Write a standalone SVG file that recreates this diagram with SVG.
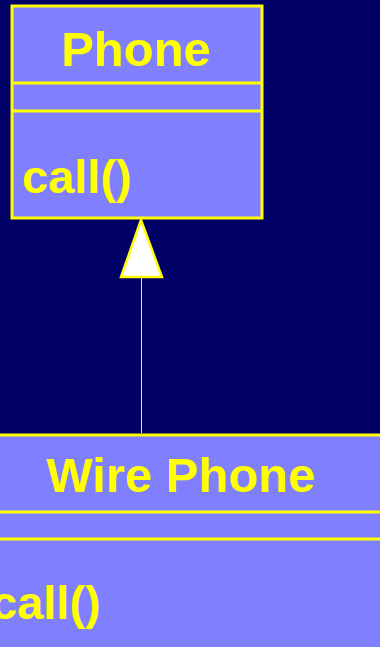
<svg xmlns="http://www.w3.org/2000/svg" width="380" height="647" viewBox="0 0 380 647">
<style>
.box{fill:#8080FF;stroke:#FFFF00;stroke-width:3}
.div{stroke:#FFFF00;stroke-width:3}
.t{font-family:"Liberation Sans",Arial,sans-serif;font-weight:bold;fill:#FFFF00;font-size:49px}
.m{font-size:47px}
.conn{stroke:#E8E8A0;stroke-width:1}
.head{fill:#FFFFFF;stroke:#FFFF00;stroke-width:2.5}
</style>
<rect x="0" y="0" width="380" height="647" fill="#000066"/>
<g id="phone">
<rect class="box" x="12" y="6" width="250" height="212"/>
<line class="div" x1="12" y1="83" x2="262" y2="83"/>
<line class="div" x1="12" y1="111" x2="262" y2="111"/>
<text class="t" x="136" y="66" text-anchor="middle">Phone</text>
<text class="t m" x="22" y="193">call()</text>
</g>
<g id="wirephone">
<rect class="box" x="-10" y="435" width="400" height="220"/>
<line class="div" x1="-10" y1="512" x2="390" y2="512"/>
<line class="div" x1="-10" y1="539" x2="390" y2="539"/>
<text class="t" x="181" y="492" text-anchor="middle">Wire Phone</text>
<text class="t m" x="-9" y="619">call()</text>
</g>
<g id="connectors">
<line class="conn" x1="141.5" y1="277" x2="141.5" y2="433"/>
<polygon class="head" points="141,220 121,277 162,277"/>
</g>
</svg>
